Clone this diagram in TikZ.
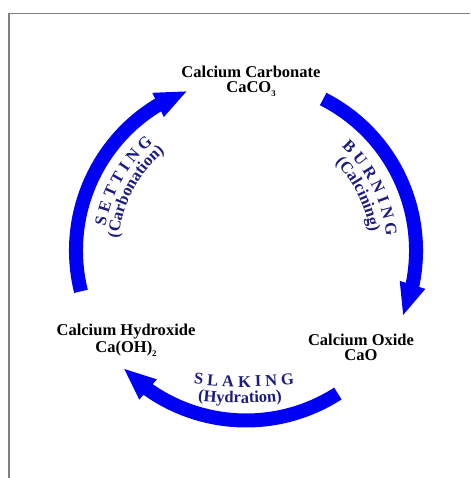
\documentclass[tikz,border=0pt]{standalone}
\usepackage{fontspec}
\setmainfont{Liberation Serif}
\usepackage{tikz}
\usetikzlibrary{arrows.meta}
\usetikzlibrary{bending}
\usetikzlibrary{decorations.text}
\definecolor{cycleblue}{RGB}{0,0,245}
\definecolor{stepblue}{RGB}{28,28,128}
\newcommand{\arrowColor}{cycleblue}
\newcommand{\stepColor}{stepblue}
\newcommand{\labelFont}{\fontsize{9.4}{8.5}\selectfont\bfseries}
\newcommand{\lowsub}[1]{\raisebox{-2.2pt}{\fontsize{5}{5}\selectfont #1}}
\tikzset{compound/.style = {align=center, inner sep=0pt, font=\labelFont}}
\tikzset{reaction/.style = {draw=\arrowColor, line width=0.28cm, -{Triangle[length=0.66cm, width=0.48cm]}}}
\tikzset{steptext/.style = {decorate, decoration={text along path, text align=center, text={|\labelFont\color{\stepColor}|#1}}}}

\begin{document}
\begin{tikzpicture}
                    \def\rad{3.4}
                    \useasboundingbox (0,0) rectangle (9.4,9.56);
                    \draw[gray, line width=0.6pt] (0.18,0) -- (0.18,9.29) -- (9.4,9.29);

                    \coordinate (c) at (4.92,4.55);
                    \node[compound] (carbonate) at (5.02,7.93) {Calcium Carbonate\\CaCO\lowsub{3}};
                    \node[compound] (hydroxide) at (2.52,2.75) {Calcium Hydroxide\\Ca(OH)\lowsub{2}};
                    \node[compound] (oxide) at (7.22,2.62) {Calcium Oxide\\CaO};

                    \draw[reaction] ([shift={(193.9:\rad)}]c) arc[start angle=193.9, end angle=110, radius=\rad];
                    \draw[reaction] ([shift={(63:\rad)}]c) arc[start angle=63, end angle=-22.8, radius=\rad];
                    \draw[reaction] ([shift={(-57.3:\rad)}]c) arc[start angle=-57.3, end angle=-136.3, radius=\rad];

                    % text runs clockwise on the sides, left to right at the bottom
                    \path[steptext={S E T T I N G}] ([shift={(180.5:2.85)}]c) arc[start angle=180.5, end angle=120.5, radius=2.85];
                    \path[steptext={(Carbonation)}] ([shift={(187:2.56)}]c) arc[start angle=187, end angle=117, radius=2.56];
                    \path[steptext={B U R N I N G}] ([shift={(56.5:2.82)}]c) arc[start angle=56.5, end angle=-3.5, radius=2.82];
                    \path[steptext={(Calcining)}] ([shift={(61.5:2.5)}]c) arc[start angle=61.5, end angle=-8.5, radius=2.5];
                    \path[steptext={S L A K I N G}] (4.88,9.82) ++(260:8) arc[start angle=260, end angle=280, radius=8];
                    \path[steptext={(Hydration)}] (4.80,9.5) ++(260:8) arc[start angle=260, end angle=280, radius=8];
                \end{tikzpicture}
\end{document}
